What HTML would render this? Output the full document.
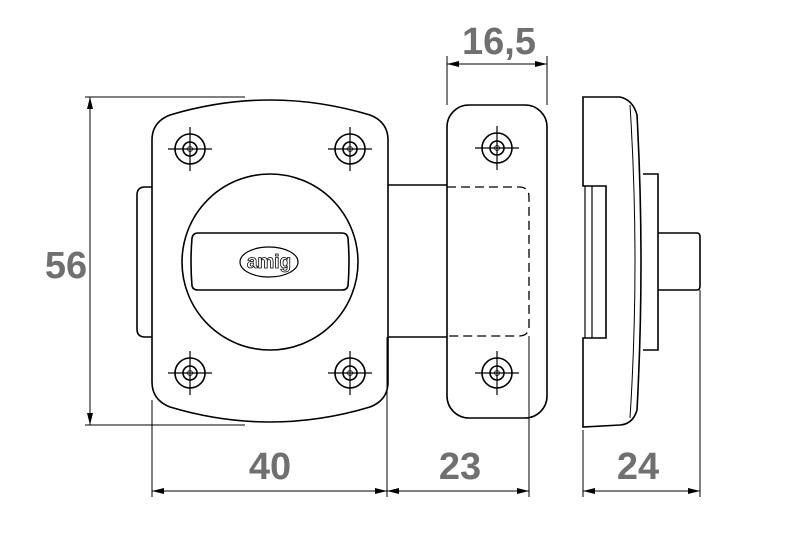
<!DOCTYPE html>
<html><head><style>html,body{margin:0;padding:0;background:#fff}svg{display:block}</style></head>
<body>
<svg width="800" height="540" viewBox="0 0 800 540" xmlns="http://www.w3.org/2000/svg">
<defs>
<marker id="a" viewBox="0 0 12 6" refX="12" refY="3" markerWidth="12" markerHeight="6" orient="auto-start-reverse" markerUnits="userSpaceOnUse"><path d="M0,0 L12,3 L0,6 Z" fill="#000"/></marker>
<g id="h"><circle r="15" fill="none" stroke="#000" stroke-width="1.6"/><circle r="7" fill="none" stroke="#000" stroke-width="1.6"/><circle r="2.5" fill="none" stroke="#000" stroke-width="0.8"/><path d="M-22,0H22M0,-22V22" stroke="#000" stroke-width="1.2"/></g>
</defs>
<g fill="none" stroke="#000" stroke-width="1.6">
<path d="M152,187 H145 Q137,187 137,195 V329 Q137,337 145,337 H152"/>
<path d="M152,140 Q152,122 170,115 Q270,85 370,115 Q388,122 388,140 V382 Q388,400 370,407 Q270,437 170,407 Q152,400 152,382 Z"/>
<path d="M388,185 H447 M388,337 H447"/>
<circle cx="270" cy="262" r="88"/>
<path d="M198,233 H342 Q347,233 348,238 Q350,262 348,286 Q347,290 342,290 H198 Q193,290 192,286 Q190,262 192,238 Q193,233 198,233 Z"/>
<ellipse cx="269" cy="262" rx="29" ry="15" stroke-width="1.2"/>
<rect x="447" y="105" width="100" height="313" rx="22"/>
<path d="M447,187 H519 Q529,187 529,197 V326 Q529,336 519,336 H447" stroke-dasharray="9,5" stroke-width="1.3"/>
<path d="M583,97 H620 Q633,100 637,115 Q645,262 637,410 Q633,424 620,425 L583,427 V338 H606 V186 H583 Z"/>
<path d="M630,105 Q640,262 630,418" stroke-width="1"/>
<path d="M585,186 V338 M592,186 V338" stroke-width="1.2"/>
<path d="M643,174 H658 V350 H643"/>
<path d="M658,233 H697 Q700,233 700,237 V286 Q700,290 697,290 H658"/>
</g>
<text x="269" y="268" font-family="Liberation Sans, sans-serif" font-size="19" font-weight="bold" text-anchor="middle" fill="none" stroke="#000" stroke-width="0.8">amig</text>
<use href="#h" x="190" y="149"/><use href="#h" x="350" y="149"/>
<use href="#h" x="190" y="373"/><use href="#h" x="350" y="373"/>
<use href="#h" x="497" y="148"/><use href="#h" x="497" y="373"/>
<g stroke="#000" stroke-width="1" fill="none">
<path d="M85,97 H245 M85,425 H245"/>
<path d="M90,97 V425" marker-start="url(#a)" marker-end="url(#a)"/>
<path d="M447,56 V105 M547,56 V105"/>
<path d="M447,64 H547" marker-start="url(#a)" marker-end="url(#a)"/>
<path d="M152,400 V497 M387,337 V497 M529,336 V497 M583,430 V497 M700,290 V497"/>
<path d="M152,491 H387" marker-start="url(#a)" marker-end="url(#a)"/>
<path d="M387,491 H529" marker-start="url(#a)" marker-end="url(#a)"/>
<path d="M583,491 H700" marker-start="url(#a)" marker-end="url(#a)"/>
</g>
<g font-family="Liberation Sans, sans-serif" font-size="38" font-weight="bold" fill="#707070" text-anchor="middle">
<text x="66" y="278">56</text>
<text x="499" y="54">16,5</text>
<text x="270" y="479">40</text>
<text x="460" y="479">23</text>
<text x="638" y="479">24</text>
</g>
</svg>
</body></html>
